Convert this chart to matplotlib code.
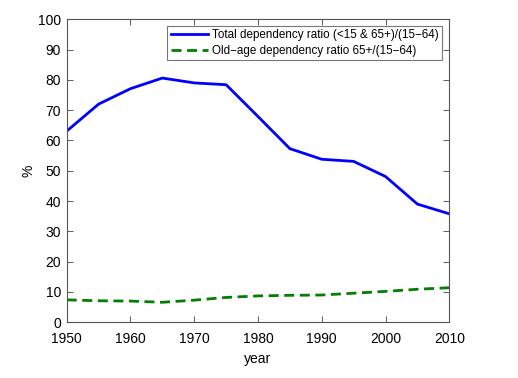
import matplotlib
matplotlib.use("Agg")
import matplotlib.pyplot as plt

years = [1950, 1955, 1960, 1965, 1970, 1975, 1980, 1985, 1990, 1995, 2000, 2005, 2010]
total_ratio = [63.1, 72.0, 77.1, 80.6, 79.0, 78.4, 67.9, 57.3, 53.8, 53.1, 48.1, 39.0, 35.8]
old_age_ratio = [7.4, 7.1, 7.0, 6.6, 7.3, 8.2, 8.7, 8.9, 9.0, 9.6, 10.2, 10.9, 11.4]
x_ticks = [1950, 1960, 1970, 1980, 1990, 2000, 2010]
y_ticks = [0, 10, 20, 30, 40, 50, 60, 70, 80, 90, 100]

plt.rcParams['font.family'] = ['Liberation Sans', 'DejaVu Sans']

fig = plt.figure(figsize=(5.18, 3.78), dpi=100)
ax = fig.add_axes([0.1288, 0.1474, 0.8674 - 0.1288, 0.949 - 0.1474])

ax.plot(years, total_ratio, color='#0000ff', lw=2.0, label='Total dependency ratio (<15 & 65+)/(15\u221264)')
ax.plot(years, old_age_ratio, color='#008000', lw=2.0, ls=(0, (3.6, 2.0)), label='Old\u2212age dependency ratio 65+/(15\u221264)')

ax.set_xlim(1950, 2010)
ax.set_ylim(0, 100)
ax.set_xticks(x_ticks)
ax.set_yticks(y_ticks)
ax.tick_params(direction='in', top=True, right=True, labelsize=10, length=4, width=0.6, color='#444444')
ax.tick_params(axis='x', pad=7)
ax.tick_params(axis='y', pad=4)
for s in ax.spines.values():
    s.set_linewidth(0.8)
    s.set_color('#555555')
ax.set_xlabel('year', fontsize=10, labelpad=4)
ax.set_ylabel('%', fontsize=10, labelpad=2)

leg = ax.legend(loc='upper right', fontsize=8.4, frameon=True, fancybox=False, edgecolor='#555555',
                borderpad=0.3, handlelength=3.2, handletextpad=0.3, labelspacing=0.28,
                borderaxespad=0, bbox_to_anchor=(0.98, 0.978))
leg.get_frame().set_linewidth(0.8)

fig.savefig('out.png', dpi=100)
